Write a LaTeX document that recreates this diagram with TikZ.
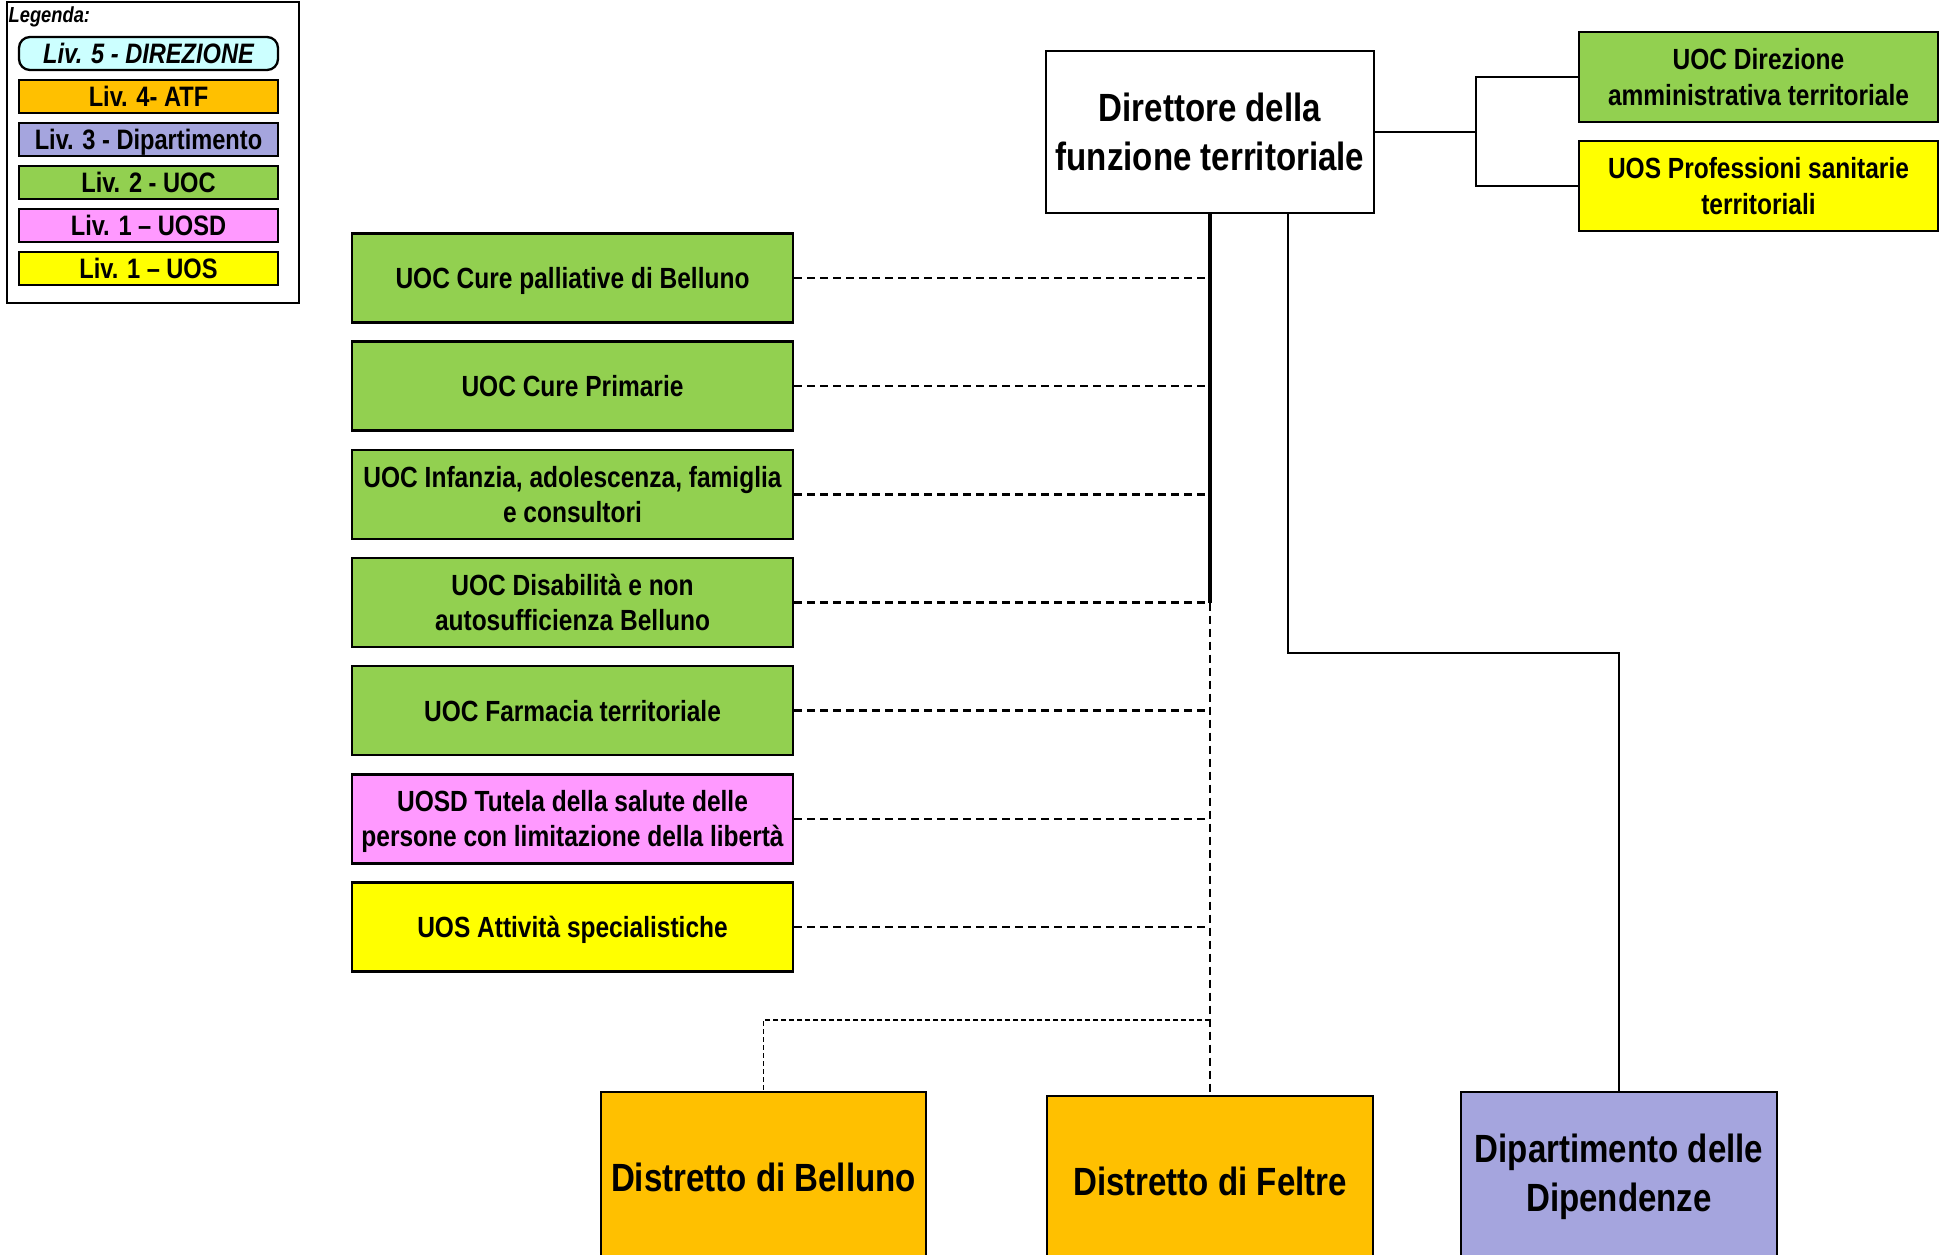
\documentclass[tikz,border=0pt]{standalone}
\usepackage{fontspec}
\setmainfont{Liberation Sans}[FakeStretch=0.84]
\usepackage{tikz}
\usetikzlibrary{calc}
\usetikzlibrary{positioning}

\definecolor{verde}{HTML}{92D050}
\definecolor{giallo}{HTML}{FFFF00}
\definecolor{arancio}{HTML}{FFC000}
\definecolor{rosa}{HTML}{FF99FF}
\definecolor{lilla}{HTML}{A5A5DE}
\definecolor{azzurro}{HTML}{CCFFFF}

\tikzset{
  box/.style={draw=black, line width=0.75pt, align=center, inner sep=1pt,
    font=\bfseries\fontsize{8.3}{10}\selectfont},
  unita/.style={box, minimum width=44.1mm, minimum height=8.9mm, text depth=0pt},
  grande/.style={box, font=\bfseries\fontsize{11.2}{13.8}\selectfont},
  voce/.style={box, line width=0.65pt, minimum width=25.9mm, minimum height=3.3mm,
    inner sep=0.5pt, text depth=0pt, font=\bfseries\fontsize{8}{9}\selectfont},
  linea/.style={line width=0.6pt},
  tratteggio/.style={line width=0.7pt, dash pattern=on 0.8mm off 0.5mm},
}

\begin{document}
\begin{tikzpicture}[x=0.1mm, y=-0.1mm]
\useasboundingbox (0,0) rectangle (1946,1255);
\clip (0,0) rectangle (1946,1255);

\draw[line width=0.5pt] (7,2) rectangle (299,303);
\node[anchor=west, inner sep=0, font=\bfseries\itshape\fontsize{6.2}{7}\selectfont] (legenda) at (8,17) {Legenda:};
\node[voce, fill=azzurro, rounded corners=1.1mm, font=\bfseries\itshape\fontsize{8}{9}\selectfont] (leg0) at (148.5,53.5) {Liv. 5 - DIREZIONE};
\foreach \col/\txt [count=\i] in {arancio/Liv. 4- ATF, lilla/Liv. 3 - Dipartimento, verde/Liv. 2 - UOC, rosa/Liv. 1 – UOSD, giallo/Liv. 1 – UOS} {
  \node[voce, fill=\col] (leg\i) at (148.5,{53.5+43*\i}) {\txt};
}

\node[grande, fill=white, minimum width=32.8mm, minimum height=16.2mm] (dir) at (1210,132) {Direttore della\\funzione territoriale};
\node[box, fill=verde, minimum width=35.9mm, minimum height=9mm, text depth=0pt] (amm) at (1758.5,77) {UOC Direzione\\amministrativa territoriale};
\node[box, fill=giallo, minimum width=35.9mm, minimum height=9mm, text depth=0pt] (prof) at (1758.5,186) {UOS Professioni sanitarie\\territoriali};

\foreach \col/\txt [count=\i] in {
  {verde/UOC Cure palliative di Belluno},
  {verde/UOC Cure Primarie},
  {verde/UOC Infanzia, adolescenza, famiglia\\e consultori},
  {verde/UOC Disabilità e non\\autosufficienza Belluno},
  {verde/UOC Farmacia territoriale},
  {rosa/UOSD Tutela della salute delle\\persone con limitazione della libertà},
  {giallo/UOS Attività specialistiche}} {
  \node[unita, fill=\col] (u\i) at (572.5,{278+108.17*(\i-1)}) {\txt};
}

\node[grande, fill=arancio, minimum width=32.5mm, minimum height=17mm] (bell) at (763.5,1177) {Distretto di Belluno};
\node[grande, fill=arancio, minimum width=32.6mm, minimum height=17mm] (felt) at (1210,1181) {Distretto di Feltre};
\node[grande, fill=lilla, minimum width=31.6mm, minimum height=17mm] (dip) at (1619,1177) {Dipartimento delle\\Dipendenze};

\coordinate (ramo) at (1476,132);
\draw[linea] (dir.east) -- (ramo) |- (amm.west);
\draw[linea] (ramo) |- (prof.west);

\foreach \i in {1,...,7} {
  \draw[tratteggio] (u\i.east) -- (u\i.east -| dir.south);
}
\draw[line width=0.9pt] (dir.south) -- (dir.south |- u4.east);
\draw[tratteggio] (dir.south |- u4.east) -- (felt.north);
\coordinate (snodo) at (1210,1020);
\draw[line width=0.55pt, dash pattern=on 0.5mm off 0.3mm] (snodo) -| (bell.north);

\coordinate (gomito) at (1288,653);
\draw[line width=0.5pt] (dir.south -| gomito) -- (gomito) -| (dip.north);
\end{tikzpicture}
\end{document}
